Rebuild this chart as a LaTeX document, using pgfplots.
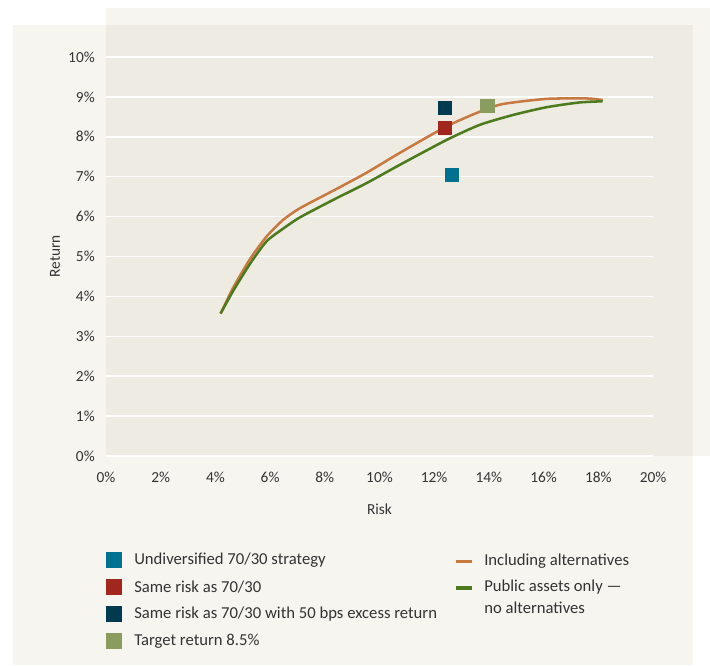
\documentclass[border=0pt]{standalone}
\usepackage{pgfplots}
\pgfplotsset{compat=1.18}
\usepackage{fontspec}
\setmainfont{Carlito}
\definecolor{bglight}{RGB}{246,245,240}
\definecolor{bgdark}{RGB}{238,236,226}
\definecolor{txt}{RGB}{51,51,51}
\definecolor{corange}{RGB}{200,121,65}
\definecolor{cgreen}{RGB}{78,122,30}
\definecolor{cteal}{RGB}{0,114,143}
\definecolor{cred}{RGB}{160,38,30}
\definecolor{cnavy}{RGB}{0,58,80}
\definecolor{colive}{RGB}{138,156,94}
\begin{document}
\begin{tikzpicture}[x=1pt,y=1pt]
\useasboundingbox (-79.5,-157.5) rectangle (453,342);
\fill[white] (-79.5,-157.5) rectangle (453,342);
\fill[bglight] (-69.75,-156.75) rectangle (440.25,323.25);
\fill[bglight] (0,0) rectangle (453,336);
\fill[bgdark] (0,0) rectangle (440.25,323.25);
\begin{axis}[
  at={(0,0)}, anchor=south west,
  scale only axis, width=410.25pt, height=299.25pt,
  xmin=0, xmax=20, ymin=0, ymax=10,
  clip=false,
  axis line style={draw=none},
  major tick length=0pt,
  xtick={0,2,...,20},
  xticklabels={0\%,2\%,4\%,6\%,8\%,10\%,12\%,14\%,16\%,18\%,20\%},
  ytick={0,1,...,10},
  yticklabels={0\%,1\%,2\%,3\%,4\%,5\%,6\%,7\%,8\%,9\%,10\%},
  ymajorgrids,
  grid style={white, line width=1.1pt},
  tick label style={font=\fontsize{11.5}{13}\selectfont, text=txt},
  yticklabel style={anchor=east, inner sep=0pt, xshift=-8.25pt},
  xticklabel style={anchor=north, inner sep=0pt, yshift=-11.5pt},
  xlabel={Risk},
  ylabel={Return},
  every axis x label/.style={at={(rel axis cs:0.5,0)}, anchor=center, yshift=-39.75pt, font=\fontsize{11.5}{13}\selectfont, text=txt},
  every axis y label/.style={at={(rel axis cs:0,0.5)}, anchor=center, rotate=90, yshift=38.25pt, font=\fontsize{11.5}{13}\selectfont, text=txt},
]
\addplot[corange, line width=1.9pt, line join=round, smooth, tension=0.4] coordinates {
(4.19,3.57) (4.66,4.23) (5.27,4.94) (5.87,5.50) (6.48,5.92) (7.09,6.21)
(8.31,6.65) (9.53,7.10) (10.75,7.60) (12.45,8.26) (13.67,8.63)
(14.5,8.82) (16.1,8.95) (17.6,8.96) (18.16,8.92)};
\addplot[cgreen, line width=1.9pt, line join=round, smooth, tension=0.4] coordinates {
(4.19,3.57) (4.66,4.15) (5.27,4.82) (5.87,5.38) (6.48,5.70) (7.09,5.98)
(8.31,6.42) (9.53,6.84) (10.75,7.30) (12.45,7.92) (13.67,8.30)
(14.9,8.55) (16.1,8.74) (17.3,8.86) (18.16,8.89)};
\addplot[cteal, only marks, mark=square*, mark size=4.9pt] coordinates {(12.63,7.04)};
\addplot[cred, only marks, mark=square*, mark size=4.9pt] coordinates {(12.4,8.22)};
\addplot[cnavy, only marks, mark=square*, mark size=4.9pt] coordinates {(12.4,8.72)};
\addplot[colive, only marks, mark=square*, mark size=4.9pt] coordinates {(13.94,8.77)};
\end{axis}
% legend
\begin{scope}[every node/.style={font=\fontsize{12.5}{14}\selectfont, text=txt, anchor=west, inner sep=0pt}]
\fill[cteal] (0,-84) rectangle (12,-72);
\node at (21,-78) {Undiversified 70/30 strategy};
\fill[cred] (0,-104.25) rectangle (12,-92.25);
\node at (21,-98.25) {Same risk as 70/30};
\fill[cnavy] (0,-124.5) rectangle (12,-112.5);
\node at (21,-118.5) {Same risk as 70/30 with 50 bps excess return};
\fill[colive] (0,-144.75) rectangle (12,-132.75);
\node at (21,-138.75) {Target return 8.5\%};
\draw[corange, line width=2.7pt] (262.5,-79) -- (274.5,-79);
\node at (283.5,-78.5) {Including alternatives};
\draw[cgreen, line width=2.7pt] (262.5,-99) -- (274.5,-99);
\node at (283.5,-98.5) {Public assets only ---};
\node at (283.5,-113.5) {no alternatives};
\end{scope}
\end{tikzpicture}
\end{document}
